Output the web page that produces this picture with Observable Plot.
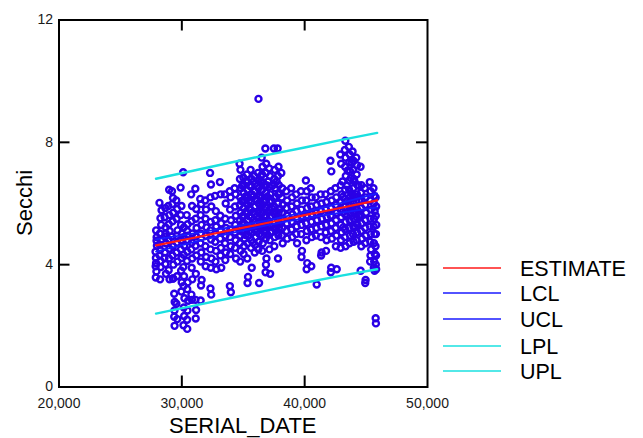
<!DOCTYPE html>
<html>
<head>
<meta charset="utf-8">
<script src="https://cdn.jsdelivr.net/npm/d3@7"></script>
<script src="https://cdn.jsdelivr.net/npm/@observablehq/plot@0.6"></script>
<style>
  body { margin: 0; background: #fff; }
  #chart svg { display: block; }
</style>
</head>
<body>
<div id="chart"></div>
<script>
// Secchi depth readings by serial date: [serial date, secchi]
const observations = [
  [27860,4.42],[27900,4.05],[27930,3.78],[27880,3.58],[27950,4.90],[27910,5.12],[27970,4.62],[27890,4.22],[27940,4.78],[27870,3.95],
  [28180,6.02],[28260,5.52],[28210,5.02],[28300,4.80],[28240,4.48],[28190,4.30],[28280,3.92],[28230,3.52],[28320,5.30],[28270,4.12],[28350,5.78],[28200,4.65],
  [28600,5.55],[28680,5.22],[28640,4.92],[28700,4.70],[28620,4.40],[28660,4.02],[28710,3.70],[28590,4.22],[28690,5.02],[28650,5.85],
  [28900,5.92],[28980,5.62],[28940,5.32],[29010,5.10],[28920,4.82],[28990,4.52],[28960,4.20],[28930,3.82],[29000,3.52],[28970,6.45],
  [29200,6.40],[29280,6.18],[29230,5.98],[29300,5.70],[29250,5.42],[29190,4.92],[29270,4.60],[29240,4.30],[29310,4.00],[29260,3.55],
  [29380,3.05],[29420,2.78],[29400,2.50],[29380,2.30],[29410,2.00],[29300,3.55],
  [29550,6.10],[29620,5.82],[29580,5.50],[29650,5.12],[29600,4.72],[29570,4.40],[29640,4.10],[29610,3.62],[29560,2.72],[29630,2.22],[29590,4.95],
  [29900,6.52],[29970,5.92],[29930,5.30],[30000,5.02],[29950,4.80],[29920,4.50],[29980,4.22],[29940,3.80],[29990,3.42],[29960,3.12],[29910,5.62],
  [30110,7.02],[30170,5.22],[30130,4.90],[30200,4.62],[30150,4.32],[30120,3.92],[30180,3.62],[30140,3.30],[30210,2.90],[30160,2.60],[30190,2.32],[30130,2.02],
  [30400,5.62],[30470,5.32],[30430,5.10],[30500,4.80],[30450,4.42],[30420,4.12],[30480,3.42],[30440,3.20],[30510,2.82],[30460,2.50],[30430,2.20],[30440,1.90],[30490,4.95],
  [30760,6.30],[30830,5.92],[30790,5.42],[30860,5.02],[30810,4.72],[30770,4.50],[30840,4.20],[30800,3.90],[30850,3.52],[30780,3.02],[30820,2.85],
  [31100,6.48],[31170,5.82],[31130,5.50],[31200,5.20],[31150,4.92],[31120,4.62],[31180,4.30],[31140,3.70],[31110,2.85],[31160,2.52],[31130,2.24],
  [31500,6.15],[31570,5.98],[31530,5.62],[31600,5.30],[31550,5.02],[31520,4.70],[31580,4.40],[31540,4.10],[31610,3.50],[31560,3.32],[31530,2.83],
  [31900,6.10],[31970,5.80],[31930,5.50],[32000,5.22],[31950,4.95],[31920,4.60],[31980,4.25],[31940,3.95],
  [32300,7.00],[32370,6.62],[32330,6.20],[32400,5.90],[32350,5.40],[32320,5.12],[32380,4.82],[32340,4.50],[32410,4.20],[32360,3.90],[32330,3.22],[32390,3.02],
  [32700,6.25],[32770,5.75],[32730,5.45],[32800,5.25],[32750,5.00],[32720,4.75],[32780,4.45],[32740,4.10],[32810,3.85],
  [33100,6.70],[33170,6.30],[33130,5.60],[33200,5.35],[33150,5.10],[33120,4.85],[33180,4.55],[33140,4.30],[33210,3.90],
  [33500,6.30],[33570,6.00],[33530,5.50],[33600,5.20],[33550,4.95],[33520,4.70],[33580,4.40],[33540,4.15],
  [33900,6.40],[33970,6.20],[33930,5.80],[34000,5.45],[33950,5.15],[33920,4.90],[33980,4.60],[33940,4.35],[33910,3.30],[33990,3.10],
  [34300,6.50],[34370,6.30],[34330,5.90],[34400,5.60],[34350,5.30],[34320,5.05],[34380,4.80],[34340,4.55],[34410,4.20],
  [34700,7.30],[34770,7.10],[34730,6.80],[34800,6.50],[34750,6.20],[34720,5.95],[34780,5.70],[34740,5.45],[34810,5.20],[34760,4.95],[34730,4.70],[34790,4.45],[34750,4.10],
  [34880,5.08],[34900,5.58],[34860,6.08],[34920,6.58],[34890,5.33],
  [35000,6.85],[35070,6.60],[35030,6.35],[35100,6.10],[35050,5.85],[35020,5.60],[35080,5.35],[35040,5.10],[35110,4.85],[35060,4.60],[35030,4.35],
  [35180,5.22],[35200,5.72],[35160,6.22],[35220,6.72],[35190,4.97],
  [35300,6.95],[35370,6.70],[35330,6.45],[35400,6.20],[35350,5.95],[35320,5.70],[35380,5.45],[35340,5.20],[35410,4.95],[35360,4.70],[35330,4.20],[35390,3.60],[35350,3.40],
  [35480,5.08],[35500,5.58],[35460,6.08],[35520,6.58],[35490,5.83],
  [35600,7.10],[35670,6.80],[35630,6.55],[35700,6.30],[35650,6.05],[35620,5.80],[35680,5.55],[35640,5.30],[35710,5.05],[35660,4.80],[35630,4.55],[35690,3.90],
  [35780,5.22],[35800,5.72],[35760,6.22],[35820,6.72],[35790,4.72],
  [35900,6.90],[35970,6.65],[35930,6.40],[36000,6.15],[35950,5.90],[35920,5.65],[35980,5.40],[35940,5.15],[36010,4.90],[35960,4.65],[35930,4.40],
  [36080,5.08],[36100,5.58],[36060,6.08],[36120,6.58],[36090,5.33],
  [36240,9.42],[36200,7.00],[36270,6.75],[36230,6.50],[36300,6.25],[36250,6.00],[36220,5.75],[36280,5.50],[36240,5.25],[36310,5.00],[36260,4.75],[36230,4.50],[36290,3.40],
  [36380,5.22],[36400,5.72],[36360,6.22],[36420,6.72],[36390,5.97],
  [36500,7.50],[36570,7.20],[36530,6.95],[36600,6.70],[36550,6.45],[36520,6.20],[36580,5.95],[36540,5.70],[36610,5.45],[36560,5.20],[36530,4.95],[36590,4.70],[36550,4.45],
  [36680,5.08],[36700,5.58],[36660,6.08],[36720,6.58],[36690,5.33],
  [36800,7.80],[36870,7.30],[36830,7.00],[36900,6.60],[36850,6.35],[36820,6.10],[36880,5.85],[36840,5.60],[36910,5.35],[36860,5.10],[36830,4.85],[36890,4.20],[36850,4.00],[36820,3.75],
  [36980,5.22],[37000,5.72],[36960,6.22],[37020,6.72],[36990,4.97],
  [37100,7.15],[37170,6.90],[37130,6.55],[37200,6.30],[37150,6.05],[37120,5.80],[37180,5.55],[37140,5.30],[37210,5.05],[37160,4.80],[37130,4.50],[37190,3.70],
  [37330,5.08],[37350,5.58],[37310,6.08],[37370,6.58],[37340,5.83],
  [37500,7.80],[37570,7.10],[37530,6.80],[37600,6.50],[37550,6.20],[37520,5.90],[37580,5.65],[37540,5.40],[37610,5.15],[37560,4.90],[37530,4.60],
  [37680,5.22],[37700,5.72],[37660,6.22],[37720,6.72],
  [37800,7.80],[37870,7.20],[37830,6.90],[37900,6.60],[37850,6.30],[37820,6.00],[37880,5.70],[37840,5.45],[37910,5.20],[37860,4.95],[37830,4.20],
  [37980,5.33],[38000,5.83],[37960,6.33],
  [38100,7.00],[38170,6.50],[38130,6.20],[38200,5.95],[38150,5.70],[38120,5.45],[38180,5.20],[38140,4.95],[38210,4.70],
  [38500,6.40],[38570,6.10],[38530,5.85],[38600,5.60],[38550,5.35],[38520,5.10],[38580,4.85],
  [38900,6.50],[38970,6.20],[38930,5.90],[39000,5.65],[38950,5.40],[38920,5.15],[38980,4.90],
  [39300,6.30],[39370,6.00],[39330,5.75],[39400,5.50],[39350,5.25],[39320,5.00],[39380,4.70],
  [39700,6.40],[39770,6.10],[39730,5.80],[39800,5.55],[39750,5.30],[39720,5.00],[39780,4.45],[39740,4.25],
  [40100,6.75],[40170,6.40],[40130,6.10],[40200,5.85],[40150,5.60],[40120,5.35],[40180,5.10],[40140,4.80],[40210,4.05],[40160,3.85],
  [40500,6.50],[40570,6.20],[40530,5.90],[40600,5.65],[40550,5.40],[40520,5.15],[40580,4.90],[40540,3.95],
  [40900,6.20],[40970,5.95],[40930,5.70],[41000,5.45],[40950,5.20],[40920,4.95],[40980,3.35],
  [41300,6.30],[41370,6.00],[41330,5.75],[41400,5.50],[41350,5.25],[41320,4.90],[41380,4.40],[41340,4.30],
  [41700,6.30],[41770,6.05],[41730,5.80],[41800,5.55],[41750,5.30],[41720,5.05],[41780,4.80],[41740,4.45],
  [42100,7.40],[42170,7.05],[42130,6.40],[42200,6.10],[42150,5.85],[42120,5.60],[42180,5.35],[42140,5.10],[42210,4.85],[42160,3.90],[42130,3.75],
  [42500,6.50],[42570,6.20],[42530,5.95],[42600,5.70],[42550,5.45],[42520,5.20],[42580,4.95],[42540,4.60],[42610,3.85],
  [42900,7.60],[42970,7.30],[42930,6.60],[43000,6.30],[42950,6.05],[42920,5.80],[42980,5.55],[42940,5.30],[43010,5.05],[42960,4.80],[42930,4.55],
  [43100,5.72],[43120,6.22],[43080,6.72],[43140,5.22],
  [43310,8.05],[43270,7.75],[43330,7.50],[43290,7.20],[43350,6.90],[43300,6.45],[43260,6.15],[43320,5.90],[43280,5.65],[43340,5.40],[43300,5.15],[43270,4.90],[43330,4.60],
  [43460,5.58],[43480,6.08],[43440,6.58],[43500,7.08],
  [43600,7.85],[43670,7.60],[43630,7.35],[43700,7.05],[43650,6.75],[43620,6.45],[43680,6.20],[43640,5.95],[43710,5.70],[43660,5.45],[43630,5.20],[43690,4.95],[43650,4.70],
  [43780,5.83],[43800,6.33],[43760,6.83],[43820,7.33],
  [43900,7.70],[43970,7.40],[43930,7.10],[44000,6.80],[43950,6.50],[43920,6.25],[43980,6.00],[43940,5.75],[44010,5.50],[43960,5.25],[43930,5.00],[43990,4.75],
  [44080,5.72],[44100,6.22],[44060,6.72],[44120,5.22],
  [44200,7.50],[44270,7.25],[44230,6.95],[44300,6.60],[44250,6.30],[44220,6.05],[44280,5.80],[44240,5.55],[44310,5.30],[44260,5.05],[44230,4.80],
  [44420,5.58],[44440,6.08],[44400,6.58],
  [44550,7.20],[44620,6.60],[44580,6.35],[44650,6.10],[44600,5.85],[44570,5.60],[44630,5.35],[44590,5.10],[44660,4.85],[44610,4.60],[44560,3.80],
  [44900,6.50],[44970,6.20],[44930,5.95],[45000,5.70],[44950,5.45],[44920,5.20],[44980,4.95],[44940,4.70],[44960,3.50],[44930,3.40],
  [45300,6.70],[45370,6.40],[45330,6.10],[45400,5.80],[45350,5.50],[45320,5.25],[45380,5.00],[45340,4.75],[45410,4.50],[45360,4.30],[45330,4.10],
  [45600,6.50],[45670,6.25],[45630,6.00],[45700,5.75],[45650,5.50],[45620,5.25],[45680,5.00],[45640,4.70],[45710,4.35],[45660,4.10],[45630,3.90],[45690,3.80],
  [45780,6.20],[45820,5.90],[45790,5.60],[45830,5.30],[45800,5.00],[45770,4.60],[45810,4.30],[45790,4.00],[45820,3.85],[45780,2.25],[45800,2.08]
];

// Linear fit with confidence (LCL/UCL) and prediction (LPL/UPL) limits
const fitDates = [27900, 31000, 34000, 37000, 40000, 43000, 45900];
const estimate = [4.63, 4.88, 5.13, 5.37, 5.62, 5.86, 6.10];
const lcl      = [4.43, 4.74, 5.03, 5.29, 5.52, 5.70, 5.87];
const ucl      = [4.83, 5.02, 5.23, 5.45, 5.72, 6.02, 6.33];
const lpl      = [2.40, 2.66, 2.91, 3.16, 3.41, 3.64, 3.85];
const upl      = [6.81, 7.08, 7.34, 7.59, 7.83, 8.08, 8.31];

const seriesNames  = ["ESTIMATE", "LCL", "UCL", "LPL", "UPL"];
const seriesValues = [estimate, lcl, ucl, lpl, upl];
const seriesColors = ["#ff1a1a", "#1a1aff", "#1a1aff", "#1ae0e0", "#1ae0e0"];
const seriesWidths = [2.2, 1.8, 1.8, 2.4, 2.4];

const xTicks = [20000, 30000, 40000, 50000];
const yTicks = [0, 4, 8, 12];
const innerTicksX = [30000, 40000];
const innerTicksY = [4, 8];

const W = 643, H = 438;
const margin = {top: 19.5, right: 216, bottom: 51.5, left: 58.5};
const frameW = W - margin.left - margin.right;
const frameH = H - margin.top - margin.bottom;
const tickLen = 11;
const font = "'Liberation Sans', Arial, sans-serif";

const points = observations.map(([date, value]) => ({date, value}));
const fitRows = seriesNames.map((name, k) =>
  fitDates.map((date, i) => ({date, value: seriesValues[k][i], series: name}))
);

// draw the prediction limits first, then confidence limits, then the estimate
const lineOrder = [3, 4, 1, 2, 0];

const chart = Plot.plot({
  width: W,
  height: H,
  marginTop: margin.top,
  marginRight: margin.right,
  marginBottom: margin.bottom,
  marginLeft: margin.left,
  style: {fontFamily: font, background: "#fff", color: "#1a1a1a"},
  x: {domain: [20000, 50000], axis: null},
  y: {domain: [0, 12], axis: null},
  marks: [
    Plot.dot(points, {x: "date", y: "value", r: 3, stroke: "#2a00e6", strokeWidth: 2.4, fill: "none"}),
    ...lineOrder.map(k => Plot.line(fitRows[k], {
      x: "date", y: "value", stroke: seriesColors[k], strokeWidth: seriesWidths[k]
    })),
    Plot.frame({stroke: "#000", strokeWidth: 2}),
    // inward ticks on all four sides
    Plot.ruleX(innerTicksX, {insetTop: frameH - tickLen, stroke: "#000", strokeWidth: 2}),
    Plot.ruleX(innerTicksX, {insetBottom: frameH - tickLen, stroke: "#000", strokeWidth: 2}),
    Plot.ruleY(innerTicksY, {insetRight: frameW - tickLen, stroke: "#000", strokeWidth: 2}),
    Plot.ruleY(innerTicksY, {insetLeft: frameW - tickLen, stroke: "#000", strokeWidth: 2}),
    Plot.axisX({ticks: xTicks, tickSize: 0, tickPadding: 11, tickFormat: d3.format(","), fontSize: 14, label: null}),
    Plot.axisY({ticks: yTicks, tickSize: 0, tickPadding: 6, tickFormat: d3.format("d"), fontSize: 14, label: null})
  ]
});

const svg = d3.select(chart);

// axis titles
svg.append("text")
  .attr("x", margin.left + frameW / 2).attr("y", 433)
  .attr("text-anchor", "middle")
  .style("font", `22px ${font}`).attr("fill", "#000")
  .text("SERIAL_DATE");

svg.append("text")
  .attr("transform", `translate(32,${margin.top + frameH / 2}) rotate(-90)`)
  .attr("text-anchor", "middle")
  .style("font", `22px ${font}`).attr("fill", "#000")
  .text("Secchi");

// legend
const legendY = [268, 293, 319, 346, 371];
const legend = svg.append("g").attr("text-anchor", "start");
seriesNames.forEach((name, k) => {
  legend.append("line")
    .attr("x1", 443).attr("x2", 501)
    .attr("y1", legendY[k]).attr("y2", legendY[k])
    .attr("stroke", seriesColors[k]).attr("stroke-width", 1.6);
  legend.append("text")
    .attr("x", 520).attr("y", legendY[k]).attr("dy", "0.36em")
    .attr("text-anchor", "start")
    .style("font", `21.5px ${font}`).attr("fill", "#000")
    .text(name);
});

document.getElementById("chart").append(chart);
</script>
</body>
</html>
